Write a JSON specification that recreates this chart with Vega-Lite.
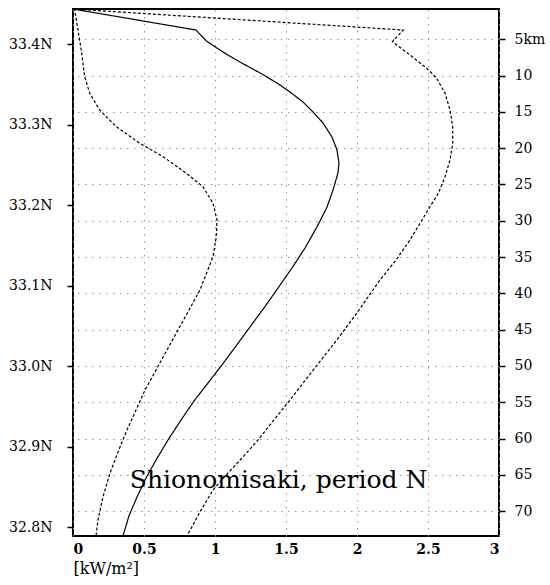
{
  "$schema": "https://vega.github.io/schema/vega-lite/v6.json",
  "width": 426,
  "height": 527,
  "autosize": {"type": "none"},
  "padding": {"left": 73, "top": 9, "right": 51, "bottom": 49},
  "background": "white",
  "config": {
    "view": {"stroke": "black", "strokeWidth": 2},
    "font": "DejaVu Serif",
    "axis": {"labelFont": "DejaVu Serif", "titleFont": "DejaVu Serif"},
    "text": {"font": "DejaVu Serif"}
  },
  "datasets": {
    "profiles": [
      {"series": "mean", "flux": 0, "km": 0.83},
      {"series": "mean", "flux": 0.866, "km": 3.72},
      {"series": "mean", "flux": 0.937, "km": 5.2},
      {"series": "mean", "flux": 1.056, "km": 6.75},
      {"series": "mean", "flux": 1.176, "km": 8.13},
      {"series": "mean", "flux": 1.317, "km": 9.64},
      {"series": "mean", "flux": 1.437, "km": 11.02},
      {"series": "mean", "flux": 1.528, "km": 12.26},
      {"series": "mean", "flux": 1.62, "km": 13.64},
      {"series": "mean", "flux": 1.69, "km": 15.01},
      {"series": "mean", "flux": 1.761, "km": 16.53},
      {"series": "mean", "flux": 1.824, "km": 18.46},
      {"series": "mean", "flux": 1.859, "km": 20.25},
      {"series": "mean", "flux": 1.873, "km": 22.04},
      {"series": "mean", "flux": 1.866, "km": 23.42},
      {"series": "mean", "flux": 1.831, "km": 25.76},
      {"series": "mean", "flux": 1.789, "km": 28.1},
      {"series": "mean", "flux": 1.718, "km": 30.85},
      {"series": "mean", "flux": 1.634, "km": 33.75},
      {"series": "mean", "flux": 1.542, "km": 36.5},
      {"series": "mean", "flux": 1.444, "km": 39.26},
      {"series": "mean", "flux": 1.345, "km": 42.01},
      {"series": "mean", "flux": 1.246, "km": 44.63},
      {"series": "mean", "flux": 1.148, "km": 47.25},
      {"series": "mean", "flux": 1.049, "km": 49.86},
      {"series": "mean", "flux": 0.951, "km": 52.34},
      {"series": "mean", "flux": 0.852, "km": 54.82},
      {"series": "mean", "flux": 0.761, "km": 57.44},
      {"series": "mean", "flux": 0.669, "km": 60.19},
      {"series": "mean", "flux": 0.585, "km": 62.95},
      {"series": "mean", "flux": 0.514, "km": 65.43},
      {"series": "mean", "flux": 0.451, "km": 68.04},
      {"series": "mean", "flux": 0.394, "km": 70.66},
      {"series": "mean", "flux": 0.352, "km": 73.42},
      {"series": "lower", "flux": 0, "km": 0.83},
      {"series": "lower", "flux": 0.012, "km": 0.96},
      {"series": "lower", "flux": 0.035, "km": 3.72},
      {"series": "lower", "flux": 0.058, "km": 6.47},
      {"series": "lower", "flux": 0.082, "km": 10.15},
      {"series": "lower", "flux": 0.118, "km": 12.44},
      {"series": "lower", "flux": 0.188, "km": 14.74},
      {"series": "lower", "flux": 0.305, "km": 17.04},
      {"series": "lower", "flux": 0.47, "km": 19.32},
      {"series": "lower", "flux": 0.634, "km": 21.17},
      {"series": "lower", "flux": 0.798, "km": 23.46},
      {"series": "lower", "flux": 0.915, "km": 25.3},
      {"series": "lower", "flux": 0.986, "km": 27.59},
      {"series": "lower", "flux": 1.014, "km": 29.89},
      {"series": "lower", "flux": 1.009, "km": 32.19},
      {"series": "lower", "flux": 0.986, "km": 34.94},
      {"series": "lower", "flux": 0.944, "km": 37.05},
      {"series": "lower", "flux": 0.894, "km": 39.53},
      {"series": "lower", "flux": 0.817, "km": 42.29},
      {"series": "lower", "flux": 0.739, "km": 45.04},
      {"series": "lower", "flux": 0.662, "km": 47.8},
      {"series": "lower", "flux": 0.585, "km": 50.55},
      {"series": "lower", "flux": 0.507, "km": 53.31},
      {"series": "lower", "flux": 0.444, "km": 56.06},
      {"series": "lower", "flux": 0.38, "km": 58.82},
      {"series": "lower", "flux": 0.317, "km": 61.85},
      {"series": "lower", "flux": 0.261, "km": 64.74},
      {"series": "lower", "flux": 0.211, "km": 68.04},
      {"series": "lower", "flux": 0.176, "km": 71.21},
      {"series": "lower", "flux": 0.162, "km": 73.42},
      {"series": "upper", "flux": 0, "km": 0.83},
      {"series": "upper", "flux": 2.326, "km": 3.72},
      {"series": "upper", "flux": 2.249, "km": 5.33},
      {"series": "upper", "flux": 2.373, "km": 7.16},
      {"series": "upper", "flux": 2.491, "km": 8.99},
      {"series": "upper", "flux": 2.561, "km": 10.37},
      {"series": "upper", "flux": 2.62, "km": 12.44},
      {"series": "upper", "flux": 2.655, "km": 14.74},
      {"series": "upper", "flux": 2.674, "km": 17.04},
      {"series": "upper", "flux": 2.674, "km": 19.32},
      {"series": "upper", "flux": 2.655, "km": 21.63},
      {"series": "upper", "flux": 2.62, "km": 23.93},
      {"series": "upper", "flux": 2.573, "km": 26.21},
      {"series": "upper", "flux": 2.514, "km": 28.06},
      {"series": "upper", "flux": 2.444, "km": 30.34},
      {"series": "upper", "flux": 2.373, "km": 32.64},
      {"series": "upper", "flux": 2.275, "km": 35.4},
      {"series": "upper", "flux": 2.162, "km": 38.15},
      {"series": "upper", "flux": 1.999, "km": 42.7},
      {"series": "upper", "flux": 1.859, "km": 46.4},
      {"series": "upper", "flux": 1.69, "km": 50.6},
      {"series": "upper", "flux": 1.528, "km": 54.68},
      {"series": "upper", "flux": 1.415, "km": 57.44},
      {"series": "upper", "flux": 1.303, "km": 60.19},
      {"series": "upper", "flux": 1.197, "km": 62.53},
      {"series": "upper", "flux": 1.092, "km": 64.74},
      {"series": "upper", "flux": 0.986, "km": 67.08},
      {"series": "upper", "flux": 0.894, "km": 70.11},
      {"series": "upper", "flux": 0.803, "km": 73.42}
    ],
    "annotation": [
      {"label": "Shionomisaki, period N", "flux": 0.4, "lat": 32.8484}
    ]
  },
  "layer": [
    {
      "data": {"name": "profiles"},
      "mark": {"type": "line", "color": "black", "strokeWidth": 1.2},
      "encoding": {
        "x": {
          "field": "flux",
          "type": "quantitative",
          "scale": {"domain": [0, 3], "nice": false, "zero": false},
          "axis": {
            "orient": "bottom",
            "values": [0, 0.5, 1, 1.5, 2, 2.5, 3],
            "labelExpr": "datum.value == 0 ? '0' : datum.label",
            "format": "~g",
            "domain": false,
            "ticks": false,
            "labelFont": "DejaVu Serif",
            "labelFontSize": 14,
            "labelFontWeight": "bold",
            "labelColor": "black",
            "labelPadding": 6,
            "grid": true,
            "gridColor": "#999999",
            "gridDash": [1.5, 5.5],
            "gridWidth": 1,
            "title": "[kW/m²]",
            "titleFont": "DejaVu Serif",
            "titleFontSize": 16,
            "titleFontWeight": "normal",
            "titleColor": "black",
            "titleAnchor": "start",
            "titleAlign": "left",
            "titlePadding": 4
          }
        },
        "y": {
          "field": "km",
          "type": "quantitative",
          "scale": {"domain": [0.826, 73.42], "reverse": true, "nice": false, "zero": false},
          "axis": {
            "orient": "right",
            "values": [5, 10, 15, 20, 25, 30, 35, 40, 45, 50, 55, 60, 65, 70],
            "labelExpr": "datum.value == 5 ? '5km' : datum.label",
            "domain": false,
            "ticks": true,
            "tickColor": "black",
            "tickSize": 6,
            "tickWidth": 1.5,
            "labelFont": "DejaVu Serif",
            "labelFontSize": 14,
            "labelColor": "black",
            "labelPadding": 9,
            "labelAlign": "left",
            "grid": true,
            "gridColor": "#999999",
            "gridDash": [1.5, 5.5],
            "gridWidth": 1,
            "title": null
          }
        },
        "detail": {"field": "series"},
        "order": {"field": "km", "type": "quantitative"},
        "strokeDash": {
          "field": "series",
          "type": "nominal",
          "scale": {"domain": ["lower", "mean", "upper"], "range": [[3, 2], [1, 0], [3, 2]]},
          "legend": null
        }
      }
    },
    {
      "data": {"name": "annotation"},
      "mark": {"type": "text", "align": "left", "baseline": "alphabetic", "fontSize": 25, "font": "DejaVu Serif", "color": "black"},
      "encoding": {
        "x": {"field": "flux", "type": "quantitative"},
        "y": {
          "field": "lat",
          "type": "quantitative",
          "scale": {"domain": [32.7891, 33.4435], "nice": false, "zero": false},
          "axis": {
            "orient": "left",
            "values": [32.8, 32.9, 33.0, 33.1, 33.2, 33.3, 33.4],
            "labelExpr": "format(datum.value, '.1f') + 'N'",
            "domain": false,
            "ticks": true,
            "tickColor": "black",
            "tickSize": 6,
            "tickWidth": 1.5,
            "labelFont": "DejaVu Serif",
            "labelFontSize": 14,
            "labelColor": "black",
            "labelPadding": 15,
            "grid": false,
            "title": null
          }
        },
        "text": {"field": "label"}
      }
    }
  ],
  "resolve": {"scale": {"y": "independent"}, "axis": {"y": "independent"}}
}
